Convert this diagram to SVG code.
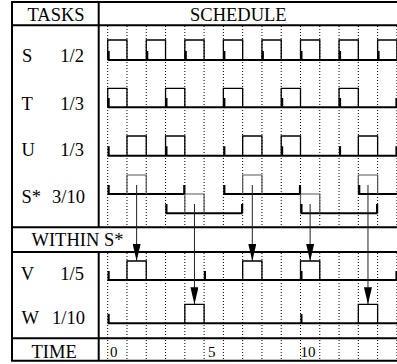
<svg xmlns="http://www.w3.org/2000/svg" width="397" height="364" viewBox="0 0 397 364">
<style>
  text { font-family: "Liberation Serif", "Times New Roman", serif; fill: #000; }
  .lbl { font-size: 18.5px; }
  .num { font-size: 15px; }
  .frame { stroke: #000; stroke-width: 2; fill: none; }
  .grid { stroke: #000; stroke-width: 1; stroke-dasharray: 1 2; fill: none; }
  .base { stroke: #000; stroke-width: 2; fill: none; }
  .pulse { stroke: #000; stroke-width: 1.3; fill: none; }
  .spulse { stroke: #555; stroke-width: 1.2; fill: none; }
  .tick { stroke: #000; stroke-width: 2.2; fill: none; }
  .arrow { stroke: #222; stroke-width: 1; fill: none; marker-end: url(#ah); }
</style>
<defs>
  <marker id="ah" markerUnits="userSpaceOnUse" viewBox="0 0 17 8" refX="17" refY="4" markerWidth="17" markerHeight="8" orient="auto">
    <path d="M0,0 L17,4 L0,8 z" fill="#000"/>
  </marker>
</defs>
<rect width="397" height="364" fill="#fff"/>

<g id="grid">
  <path class="grid" d="M107.7,26V227 M126.98,26V227 M146.26,26V227 M165.54,26V227 M184.82,26V227 M204.1,26V227 M223.38,26V227 M242.66,26V227 M261.94,26V227 M281.22,26V227 M300.5,26V227 M319.78,26V227 M339.06,26V227 M358.34,26V227 M377.62,26V227 M396.9,26V227"/>
  <path class="grid" d="M107.7,253V360 M126.98,253V360 M146.26,253V360 M165.54,253V360 M184.82,253V360 M204.1,253V360 M223.38,253V360 M242.66,253V360 M261.94,253V360 M281.22,253V360 M300.5,253V360 M319.78,253V360 M339.06,253V360 M358.34,253V360 M377.62,253V360 M396.9,253V360"/>
</g>

<g id="frame">
  <path class="frame" d="M400,2H12V360.7H400"/>
  <path class="frame" d="M12,25.3H400 M12,227.3H400 M12,252H400 M12,338.3H400"/>
  <path class="frame" d="M98.7,2V227.3 M98.7,252V360.7"/>
  <text class="lbl" x="27.5" y="20.5">TASKS</text>
  <text class="lbl" x="190" y="20.5">SCHEDULE</text>
  <text class="lbl" x="31.5" y="246">WITHIN S*</text>
  <text class="lbl" x="31.5" y="358">TIME</text>
</g>

<g id="row-S">
  <text class="lbl" x="22" y="61.5">S</text>
  <text class="lbl" x="84" y="61.5" text-anchor="end">1/2</text>
  <path class="base" d="M107.7,60H397"/>
  <path class="pulse" d="M107.7,60V40H126.98V60 M146.26,60V40H165.54V60 M184.82,60V40H204.1V60 M223.38,60V40H242.66V60 M261.94,60V40H281.22V60 M300.5,60V40H319.78V60 M339.06,60V40H358.34V60 M377.62,60V40H396.9V60"/>
  <path class="tick" d="M108.6,51V60 M147.2,51V60 M185.7,51V60 M224.3,51V60 M262.8,51V60 M301.4,51V60 M340,51V60 M378.5,51V60"/>
</g>

<g id="row-T">
  <text class="lbl" x="21.5" y="110">T</text>
  <text class="lbl" x="84" y="110" text-anchor="end">1/3</text>
  <path class="base" d="M107.7,107.3H397"/>
  <path class="pulse" d="M107.7,107.3V88.3H126.98V107.3 M165.54,107.3V88.3H184.82V107.3 M223.38,107.3V88.3H242.66V107.3 M281.22,107.3V88.3H300.5V107.3 M339.06,107.3V88.3H358.34V107.3"/>
  <path class="tick" d="M108.6,98V107.3 M166.4,98V107.3 M224.3,98V107.3 M282.1,98V107.3 M340,98V107.3 M396.5,98V107.3"/>
</g>

<g id="row-U">
  <text class="lbl" x="21.5" y="156">U</text>
  <text class="lbl" x="84" y="156" text-anchor="end">1/3</text>
  <path class="base" d="M107.7,155.7H397"/>
  <path class="pulse" d="M126.98,155.7V136H146.26V155.7 M165.54,155.7V136H184.82V155.7 M242.66,155.7V136H261.94V155.7 M281.22,155.7V136H300.5V155.7 M358.34,155.7V136H377.62V155.7"/>
  <path class="tick" d="M108.6,146.3V155.7 M166.4,146.3V155.7 M224.3,146.3V155.7 M282.1,146.3V155.7 M340,146.3V155.7 M396.5,146.3V155.7"/>
</g>

<g id="row-Sstar">
  <text class="lbl" x="21.5" y="202.7">S*</text>
  <text class="lbl" x="85" y="202.7" text-anchor="end">3/10</text>
  <path class="base" d="M107.7,194H184.82 M223.38,194H300.5 M358.34,194H397 M165.54,213.3H242.66 M300.5,213.3H377.62"/>
  <path class="spulse" d="M126.98,194V175H146.26V194 M242.66,194V175H261.94V194 M358.34,194V175H377.62V194 M184.82,213.3V194H204.1V213.3 M300.5,213.3V194H319.78V213.3"/>
  <path class="tick" d="M108.6,185V194 M184.3,185V194 M224.3,185V194 M300,185V194 M359.2,185V194 M166.4,204V213.3 M242.1,204V213.3 M301.4,204V213.3 M377.1,204V213.3"/>
</g>

<g id="row-V">
  <text class="lbl" x="20.7" y="279.5">V</text>
  <text class="lbl" x="84" y="279.5" text-anchor="end">1/5</text>
  <path class="base" d="M107.7,280H397"/>
  <path class="pulse" d="M126.98,280V261H146.26V280 M242.66,280V261H261.94V280 M300.5,280V261H319.78V280"/>
  <path class="tick" d="M108.6,271V280 M204.9,271V280 M301.4,271V280 M396.5,271V280"/>
</g>

<g id="row-W">
  <text class="lbl" x="21.5" y="323.5">W</text>
  <text class="lbl" x="85" y="323.5" text-anchor="end">1/10</text>
  <path class="base" d="M107.7,323.3H397"/>
  <path class="pulse" d="M184.82,323.3V304.3H204.1V323.3 M358.34,323.3V304.3H377.62V323.3"/>
  <path class="tick" d="M108.6,314V323.3 M301.4,314V323.3"/>
</g>

<g id="time-labels">
  <text class="num" x="110" y="357">0</text>
  <text class="num" x="208" y="357">5</text>
  <text class="num" x="300.5" y="357">10</text>
</g>

<g id="connectors">
  <line class="arrow" x1="136.62" y1="185" x2="136.62" y2="261"/>
  <line class="arrow" x1="194.46" y1="204" x2="194.46" y2="304.3"/>
  <line class="arrow" x1="252.3" y1="185" x2="252.3" y2="261"/>
  <line class="arrow" x1="310.14" y1="204" x2="310.14" y2="261"/>
  <line class="arrow" x1="367.98" y1="185" x2="367.98" y2="304.3"/>
</g>
</svg>
